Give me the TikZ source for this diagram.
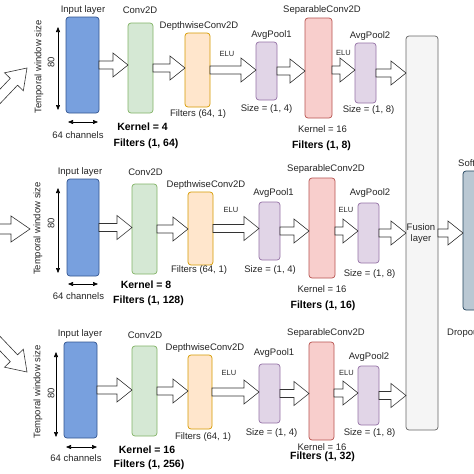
\documentclass[tikz,border=0pt]{standalone}
\usepackage{fontspec}
\setmainfont{Liberation Sans}
\usetikzlibrary{calc,arrows.meta}
\def\basw{4pt}\def\bahw{12pt}\def\bahl{15pt}
\newcommand\blockarrow[2]{%
  \coordinate (bacA) at (#1);
  \coordinate (bacB) at (#2);
  \coordinate (bacC) at ($(bacB)!\bahl!(bacA)$);
  \draw[barrow] ($(bacA)!\basw!-90:(bacB)$) -- ($(bacC)!\basw!-90:(bacB)$) -- ($(bacC)!\bahw!-90:(bacB)$) -- (bacB)
    -- ($(bacC)!\bahw!90:(bacB)$) -- ($(bacC)!\basw!90:(bacB)$) -- ($(bacA)!\basw!90:(bacB)$) -- cycle;}
\begin{document}
\begin{tikzpicture}[x=1pt,y=-1pt,
  barrow/.style={fill=white, draw=black!80, line width=0.6pt, line join=miter},
  box/.style={rounded corners=3pt, line width=0.7pt, inner sep=0pt, outer sep=0pt},
  inl/.style={box, fill={rgb,255:red,120;green,160;blue,222}, draw={rgb,255:red,50;green,85;blue,145}},
  cvl/.style={box, fill={rgb,255:red,213;green,232;blue,212}, draw={rgb,255:red,130;green,179;blue,102}},
  dwl/.style={box, fill={rgb,255:red,255;green,230;blue,204}, draw={rgb,255:red,215;green,155;blue,0}},
  pll/.style={box, fill={rgb,255:red,225;green,213;blue,231}, draw={rgb,255:red,150;green,115;blue,166}},
  spl/.style={box, fill={rgb,255:red,248;green,206;blue,204}, draw={rgb,255:red,184;green,84;blue,80}},
  ful/.style={box, fill={rgb,255:red,245;green,245;blue,245}, draw={rgb,255:red,102;green,102;blue,102}},
  sml/.style={box, fill={rgb,255:red,186;green,200;blue,211}, draw={rgb,255:red,35;green,68;blue,93}},
  lbl/.style={inner sep=0pt, font=\fontsize{9.5}{11}\selectfont, text=black!85},
  elu/.style={inner sep=0pt, font=\fontsize{7.5}{9}\selectfont, text=black!85},
  blbl/.style={inner sep=0pt, font=\fontsize{10.5}{12}\selectfont\bfseries},
  dim/.style={{Triangle[length=5pt,width=4pt]}-{Triangle[length=5pt,width=4pt]}, line width=0.6pt}]
\useasboundingbox (0,0) rectangle (474,474);
\fill[white] (0,0) rectangle (474,474);
\clip (0,0) rectangle (474,474);

% ---------- shared fusion and output ----------
\node[ful, minimum width=32pt, minimum height=394pt] (fus) at (422,233) {};
\node[lbl, align=center] (lfus) at (421,234) {Fusion\\layer};
\node[sml, minimum width=44pt, minimum height=139pt] (soft) at (485,240.5) {};
\node[lbl, anchor=west] (lsoft) at (458,163) {Softmax};
\node[lbl, anchor=west] (ldrop) at (447,333) {Dropout};

% ---------- row 1 ----------
\node[inl, minimum width=33pt, minimum height=96pt] (in1) at (82.5,65) {};
\node[cvl, minimum width=25pt, minimum height=90pt] (cv1) at (140.5,68) {};
\node[dwl, minimum width=25pt, minimum height=74pt] (dw1) at (197.5,70) {};
\node[pll, minimum width=21pt, minimum height=58pt] (pa1) at (266.5,71) {};
\node[spl, minimum width=27pt, minimum height=100pt] (sp1) at (318.5,68) {};
\node[pll, minimum width=21pt, minimum height=60pt] (pb1) at (365.5,73) {};

\node[lbl] (lin1) at (83,10) {Input layer};
\node[lbl] (lcv1) at (140,10) {Conv2D};
\node[lbl] (ldw1) at (199,26) {DepthwiseConv2D};
\node[elu] (le1a) at (227,54) {ELU};
\node[lbl] (lpa1) at (271.5,35) {AvgPool1};
\node[lbl] (lsp1) at (322,10) {SeparableConv2D};
\node[elu] (le1b) at (343.5,53) {ELU};
\node[lbl] (lpb1) at (370,36) {AvgPool2};
\node[lbl] (lfd1) at (198,114) {Filters (64, 1)};
\node[lbl] (lsa1) at (266.5,109) {Size = (1, 4)};
\node[lbl] (lsb1) at (368.5,110) {Size = (1, 8)};
\node[lbl] (lk1s) at (322.5,129) {Kernel = 16};
\node[blbl] (lf1s) at (321.5,146) {Filters (1, 8)};
\node[blbl] (lk1) at (142.5,127) {Kernel = 4};
\node[blbl] (lf1) at (146,144) {Filters (1, 64)};
\node[lbl] (lch1) at (78,135) {64 channels};
\node[lbl, rotate=90] (ltw1) at (39,67) {Temporal window size};
\node[lbl, rotate=90] (l801) at (51,62) {80};
\coordinate (va1t) at (58,27); \coordinate (va1b) at (58,110);
\coordinate (ha1l) at (68,122); \coordinate (ha1r) at (98,122);
\draw[dim] (va1t) -- (va1b);
\draw[dim] (ha1l) -- (ha1r);

\coordinate (so1) at ($(sp1.east)+(0,2)$);
\blockarrow{in1.east}{in1.east -| cv1.west}
\blockarrow{cv1.east}{cv1.east -| dw1.west}
\blockarrow{dw1.east}{dw1.east -| pa1.west}
\blockarrow{pa1.east}{pa1.east -| sp1.west}
\blockarrow{so1}{so1 -| pb1.west}
\blockarrow{pb1.east}{pb1.east -| fus.west}

% ---------- row 2 ----------
\node[inl, minimum width=32pt, minimum height=97pt] (in2) at (83,227.5) {};
\node[cvl, minimum width=25pt, minimum height=90pt] (cv2) at (144.5,229) {};
\node[dwl, minimum width=25pt, minimum height=73pt] (dw2) at (200.5,228.5) {};
\node[pll, minimum width=21pt, minimum height=58pt] (pa2) at (269.5,231) {};
\node[spl, minimum width=26pt, minimum height=100pt] (sp2) at (322,228) {};
\node[pll, minimum width=21pt, minimum height=60pt] (pb2) at (368.5,233) {};

\node[lbl] (lin2) at (80,172) {Input layer};
\node[lbl] (lcv2) at (145.5,172) {Conv2D};
\node[lbl] (ldw2) at (206,185) {DepthwiseConv2D};
\node[elu] (le2a) at (231,210) {ELU};
\node[lbl] (lpa2) at (273.5,193) {AvgPool1};
\node[lbl] (lsp2) at (326,169) {SeparableConv2D};
\node[elu] (le2b) at (346,210) {ELU};
\node[lbl] (lpb2) at (370,193) {AvgPool2};
\node[lbl] (lfd2) at (199,270) {Filters (64, 1)};
\node[lbl] (lsa2) at (270,270) {Size = (1, 4)};
\node[lbl] (lsb2) at (369.5,274) {Size = (1, 8)};
\node[lbl] (lk2s) at (322,289) {Kernel = 16};
\node[blbl] (lf2s) at (323,306) {Filters (1, 16)};
\node[blbl] (lk2) at (146,285) {Kernel = 8};
\node[blbl] (lf2) at (148.5,301) {Filters (1, 128)};
\node[lbl] (lch2) at (78.5,296) {64 channels};
\node[lbl, rotate=90] (ltw2) at (38,228.5) {Temporal window size};
\node[lbl, rotate=90] (l802) at (51,223) {80};
\coordinate (va2t) at (58,188); \coordinate (va2b) at (58,273);
\coordinate (ha2l) at (68,284); \coordinate (ha2r) at (98,284);
\draw[dim] (va2t) -- (va2b);
\draw[dim] (ha2l) -- (ha2r);

\coordinate (so2) at ($(sp2.east)+(0,3)$);
\blockarrow{in2.east}{in2.east -| cv2.west}
\blockarrow{cv2.east}{cv2.east -| dw2.west}
\blockarrow{dw2.east}{dw2.east -| pa2.west}
\blockarrow{pa2.east}{pa2.east -| sp2.west}
\blockarrow{so2}{so2 -| pb2.west}
\blockarrow{pb2.east}{pb2.east -| fus.west}

% ---------- row 3 ----------
\node[inl, minimum width=33pt, minimum height=96pt] (in3) at (80.5,390) {};
\node[cvl, minimum width=25pt, minimum height=90pt] (cv3) at (144.5,391) {};
\node[dwl, minimum width=24pt, minimum height=74pt] (dw3) at (200,392) {};
\node[pll, minimum width=21pt, minimum height=59pt] (pa3) at (269.5,393.5) {};
\node[spl, minimum width=25pt, minimum height=98pt] (sp3) at (321.5,391) {};
\node[pll, minimum width=21pt, minimum height=59pt] (pb3) at (368.5,395.5) {};

\node[lbl] (lin3) at (80,334) {Input layer};
\node[lbl] (lcv3) at (145,335) {Conv2D};
\node[lbl] (ldw3) at (205,348) {DepthwiseConv2D};
\node[elu] (le3a) at (229,373) {ELU};
\node[lbl] (lpa3) at (274,353) {AvgPool1};
\node[lbl] (lsp3) at (326,333) {SeparableConv2D};
\node[elu] (le3b) at (346.5,373) {ELU};
\node[lbl] (lpb3) at (369,357) {AvgPool2};
\node[lbl] (lfd3) at (203,437) {Filters (64, 1)};
\node[lbl] (lsa3) at (271.5,433) {Size = (1, 4)};
\node[lbl] (lsb3) at (369.5,433) {Size = (1, 8)};
\node[lbl] (lk3s) at (322,447) {Kernel = 16};
\node[blbl] (lf3s) at (322.5,457) {Filters (1, 32)};
\node[blbl] (lk3) at (147,450) {Kernel = 16};
\node[blbl] (lf3) at (149,465) {Filters (1, 256)};
\node[lbl] (lch3) at (76,458) {64 channels};
\node[lbl, rotate=90] (ltw3) at (38,392) {Temporal window size};
\node[lbl, rotate=90] (l803) at (51,393) {80};
\coordinate (va3t) at (56,352); \coordinate (va3b) at (56,437);
\coordinate (ha3l) at (66,447); \coordinate (ha3r) at (97,447);
\draw[dim] (va3t) -- (va3b);
\draw[dim] (ha3l) -- (ha3r);

\coordinate (so3) at ($(sp3.east)+(0,2)$);
\blockarrow{in3.east}{in3.east -| cv3.west}
\blockarrow{cv3.east}{cv3.east -| dw3.west}
\blockarrow{dw3.east}{dw3.east -| pa3.west}
\blockarrow{pa3.east}{pa3.east -| sp3.west}
\blockarrow{so3}{so3 -| pb3.west}
\blockarrow{pb3.east}{pb3.east -| fus.west}

% fusion -> softmax
\blockarrow{fus.east}{fus.east -| soft.west}

% ---------- incoming arrows at the left ----------
\def\basw{5pt}\def\bahw{13pt}\def\bahl{19pt}
\coordinate (src1) at (-30,128); \coordinate (tip1) at (27,68);
\coordinate (src2) at (-20,229); \coordinate (tip2) at (30,229);
\coordinate (src3) at (-30,312); \coordinate (tip3) at (27,372);
\blockarrow{src1}{tip1}
\blockarrow{src2}{tip2}
\blockarrow{src3}{tip3}
\end{tikzpicture}
\end{document}
